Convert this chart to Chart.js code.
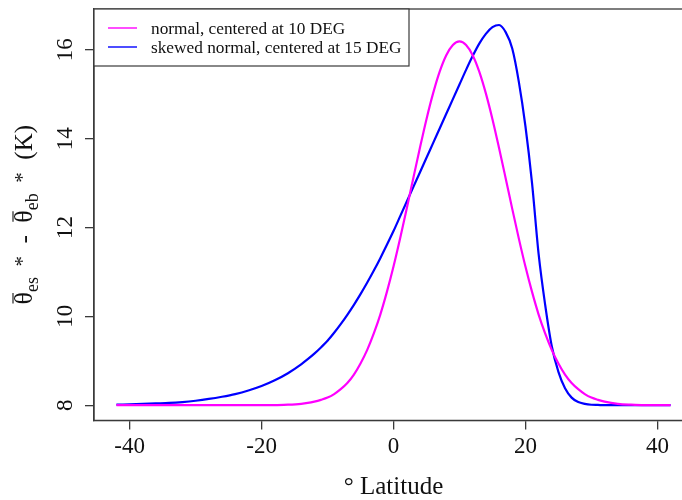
<!DOCTYPE html>
<html>
<head>
<meta charset="utf-8">
<script src="https://cdn.jsdelivr.net/npm/chart.js@4.4.0/dist/chart.umd.min.js"></script>
<style>
  html, body { margin: 0; padding: 0; background: #fff; overflow: hidden; }
  #wrap { position: relative; width: 700px; height: 500px; }
</style>
</head>
<body>
<div id="wrap"><canvas id="c"></canvas></div>
<script>
/* theta_es* - theta_eb* profiles vs latitude, drawn R base-graphics style */
(function () {
  "use strict";

  var LAT = [-42, -40, -38, -36, -34, -32, -30, -28, -26, -24, -22, -20, -18, -16,
    -14, -13, -12, -11, -10, -9, -8, -7, -6, -5, -4, -3, -2, -1, 0, 1, 2, 3, 4, 5, 6, 7, 8, 9,
    10, 11, 12, 13, 14, 15, 16, 17, 18, 19, 20, 21, 22, 23, 24, 25, 26, 27, 28, 29, 30, 31, 32,
    34, 36, 38, 40, 42];
  var NORMAL_VAL = [8.00, 8.00, 8.00, 8.00, 8.00, 8.00, 8.00, 8.00, 8.00, 8.00, 8.00, 8.00, 8.00, 8.01,
    8.03, 8.05, 8.08, 8.12, 8.17, 8.25, 8.36, 8.50, 8.69, 8.94, 9.24, 9.61, 10.04, 10.55, 11.12, 11.75, 12.42, 13.11, 13.79, 14.44, 15.02, 15.51, 15.88, 16.11,
    16.19, 16.11, 15.88, 15.51, 15.02, 14.44, 13.79, 13.11, 12.42, 11.75, 11.12, 10.55, 10.04, 9.61, 9.24, 8.94, 8.69, 8.50, 8.36, 8.25, 8.17, 8.12, 8.08,
    8.03, 8.01, 8.00, 8.00, 8.00];
  var SKEW_VAL = [8.01, 8.02, 8.03, 8.04, 8.05, 8.07, 8.10, 8.14, 8.19, 8.25, 8.33, 8.43, 8.56, 8.72,
    8.92, 9.035, 9.16, 9.30, 9.45, 9.63, 9.825, 10.035, 10.26, 10.50, 10.755, 11.025, 11.31, 11.61, 11.92, 12.25, 12.58, 12.91, 13.24, 13.57, 13.90, 14.23, 14.56, 14.89,
    15.22, 15.55, 15.86, 16.14, 16.36, 16.51, 16.56, 16.40, 16.03, 15.28, 14.28, 13.00, 11.40, 10.25, 9.32, 8.75, 8.38, 8.17, 8.07, 8.03, 8.01, 8.005, 8.00,
    8.00, 8.00, 8.00, 8.00, 8.00];
  var X_TICKS = [-40, -20, 0, 20, 40];
  var Y_TICKS = [8, 10, 12, 14, 16];
  var SERIES_NAMES = ["normal, centered at 10 DEG", "skewed normal, centered at 15 DEG"];
  var SERIES_COLORS = ["#ff00ff", "#0000ff"];

  var SERIF = '"Liberation Serif", "DejaVu Serif", serif';
  var AXIS = "#3a3a3a";
  var TEXT = "#111";

  function pts(vals) { return LAT.map(function (x, i) { return { x: x, y: vals[i] }; }); }

  var rStyle = {
    id: "rStyle",
    afterDraw: function (chart) {
      var ctx = chart.ctx, a = chart.chartArea, y = chart.scales.y;
      ctx.save();
      // plot box
      ctx.strokeStyle = AXIS; ctx.lineWidth = 1.3;
      ctx.strokeRect(a.left, a.top, a.right - a.left, a.bottom - a.top);

      // y tick labels, parallel to axis
      ctx.fillStyle = TEXT;
      ctx.font = "23px " + SERIF;
      ctx.textAlign = "center"; ctx.textBaseline = "alphabetic";
      Y_TICKS.forEach(function (v) {
        ctx.save();
        ctx.translate(a.left - 22, y.getPixelForValue(v));
        ctx.rotate(-Math.PI / 2);
        ctx.fillText(String(v), 0, 0);
        ctx.restore();
      });

      // y title: theta-bar_es * - theta-bar_eb *  (K)
      var parts = [
        { t: "\u03b8", s: 26, dy: 0, bar: true },
        { t: "es", s: 18, dy: 6 },
        { t: "  *", s: 21, dy: -3 },
        { t: "  -  ", s: 25, dy: 0 },
        { t: "\u03b8", s: 26, dy: 0, bar: true },
        { t: "eb", s: 18, dy: 6 },
        { t: "  *", s: 21, dy: -3 },
        { t: "  (K)", s: 25, dy: 0 }
      ];
      var total = 0;
      parts.forEach(function (p) { ctx.font = p.s + "px " + SERIF; p.w = ctx.measureText(p.t).width; total += p.w; });
      ctx.save();
      ctx.translate(32, (a.top + a.bottom) / 2);
      ctx.rotate(-Math.PI / 2);
      ctx.textAlign = "left";
      var cx = -total / 2;
      parts.forEach(function (p) {
        ctx.font = p.s + "px " + SERIF;
        ctx.fillText(p.t, cx, p.dy);
        if (p.bar) {
          ctx.strokeStyle = TEXT; ctx.lineWidth = 1.1;
          ctx.beginPath(); ctx.moveTo(cx + 1, -19); ctx.lineTo(cx + p.w - 1, -19); ctx.stroke();
        }
        cx += p.w;
      });
      ctx.restore();

      // legend box (R style, top-left)
      var lx = a.left, ly = a.top, lw = 315, lh = 57;
      ctx.fillStyle = "#fff";
      ctx.fillRect(lx, ly, lw, lh);
      ctx.strokeStyle = AXIS; ctx.lineWidth = 1.2;
      ctx.strokeRect(lx, ly, lw, lh);
      ctx.font = "17.3px " + SERIF;
      ctx.textAlign = "left"; ctx.textBaseline = "middle";
      SERIES_NAMES.forEach(function (name, i) {
        var yy = ly + 19 + i * 19;
        ctx.strokeStyle = SERIES_COLORS[i]; ctx.lineWidth = 1.4;
        ctx.beginPath(); ctx.moveTo(lx + 14, yy); ctx.lineTo(lx + 43, yy); ctx.stroke();
        ctx.fillStyle = TEXT;
        ctx.fillText(name, lx + 57, yy + 1);
      });
      ctx.restore();
    }
  };

  new Chart(document.getElementById("c"), {
    type: "line",
    data: {
      datasets: [
        { label: SERIES_NAMES[0], data: pts(NORMAL_VAL), borderColor: SERIES_COLORS[0], backgroundColor: SERIES_COLORS[0] },
        { label: SERIES_NAMES[1], data: pts(SKEW_VAL), borderColor: SERIES_COLORS[1], backgroundColor: SERIES_COLORS[1] }
      ]
    },
    options: {
      responsive: true, maintainAspectRatio: false, animation: false,
      layout: { padding: { left: 85, top: 9, right: 7, bottom: 0 } },
      elements: {
        line: { borderWidth: 2.2, cubicInterpolationMode: "monotone", fill: false },
        point: { radius: 0, hoverRadius: 0 }
      },
      plugins: { legend: { display: false }, tooltip: { enabled: false } },
      events: [],
      scales: {
        x: {
          type: "linear", min: -45.4, max: 45.4,
          afterBuildTicks: function (s) { s.ticks = X_TICKS.map(function (v) { return { value: v }; }); },
          grid: { drawOnChartArea: false, drawTicks: true, tickLength: 9, color: AXIS, lineWidth: 1.3 },
          border: { color: AXIS, width: 1.3 },
          ticks: { color: TEXT, font: { family: SERIF, size: 23 }, padding: 4, maxRotation: 0, autoSkip: false },
          title: { display: true, text: "\u00b0 Latitude", color: TEXT, font: { family: SERIF, size: 25, lineHeight: 1 }, padding: { top: 10, bottom: 0 } }
        },
        y: {
          type: "linear", min: 7.657, max: 16.92,
          afterBuildTicks: function (s) { s.ticks = Y_TICKS.map(function (v) { return { value: v }; }); },
          grid: { drawOnChartArea: false, drawTicks: true, tickLength: 9, color: AXIS, lineWidth: 1.3 },
          border: { color: AXIS, width: 1.3 },
          ticks: { display: false }
        }
      }
    },
    plugins: [rStyle]
  });
})();
</script>
</body>
</html>
